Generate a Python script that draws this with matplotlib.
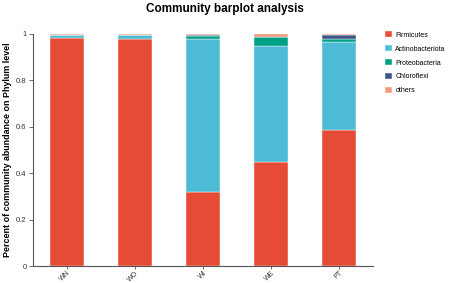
import matplotlib
matplotlib.use("Agg")
import matplotlib.pyplot as plt
import numpy as np

plt.rcParams["font.family"] = ["Liberation Sans", "DejaVu Sans"]

samples = ["WN", "WO", "WI", "WE", "PT"]
phyla = ["Firmicutes", "Actinobacteriota", "Proteobacteria", "Chloroflexi", "others"]
firmicutes = [0.982, 0.977, 0.319, 0.450, 0.586]
actinobacteriota = [0.014, 0.018, 0.659, 0.500, 0.380]
proteobacteria = [0.000, 0.000, 0.015, 0.037, 0.014]
chloroflexi = [0.000, 0.000, 0.002, 0.000, 0.017]
others = [0.004, 0.005, 0.005, 0.013, 0.003]
colors = ["#E64B35", "#4DBBD5", "#00A087", "#3C5488", "#F39B7F"]

series = [firmicutes, actinobacteriota, proteobacteria, chloroflexi, others]

fig = plt.figure(figsize=(4.53, 2.83), dpi=100)
ax = fig.add_axes([0.0728, 0.060, 0.7506, 0.820])
x = np.arange(len(samples))
bottom = np.zeros(len(samples))
for name, vals, c in zip(phyla, series, colors):
    ax.bar(x, vals, width=0.5, bottom=bottom, color=c, label=name,
           edgecolor="white", linewidth=0.3)
    bottom += np.array(vals)

ax.set_xlim(-0.5, 4.5)
ax.set_ylim(0, 1)
ax.set_yticks([0, 0.2, 0.4, 0.6, 0.8, 1.0])
ax.set_yticklabels(["0", "0.2", "0.4", "0.6", "0.8", "1"], fontsize=5.5, color="#333333")
ax.set_xticks(x)
ax.set_xticklabels(samples, rotation=45, ha="right", rotation_mode="anchor", fontsize=5, color="#333333")
for s in ["top", "right"]:
    ax.spines[s].set_visible(False)
for s in ["left", "bottom"]:
    ax.spines[s].set_color("#555555")
    ax.spines[s].set_linewidth(0.8)
ax.tick_params(axis="y", length=3, width=0.6, color="#555555", pad=1.5)
ax.tick_params(axis="x", length=2, width=0.6, color="#555555", pad=0.5)
ax.set_ylabel("Percent of community abundance on Phylum level", fontsize=6.4,
              fontweight="bold", labelpad=3)
fig.text(0.497, 0.968, "Community barplot analysis", ha="center", va="center",
         fontsize=8.5, fontweight="bold")

leg = ax.legend(loc="upper left", bbox_to_anchor=(1.035, 1.012), frameon=False,
                fontsize=5, handlelength=1.0, handleheight=1.0, handletextpad=0.5,
                labelspacing=0.93, borderaxespad=0, borderpad=0)
fig.savefig("out.png", dpi=100)
